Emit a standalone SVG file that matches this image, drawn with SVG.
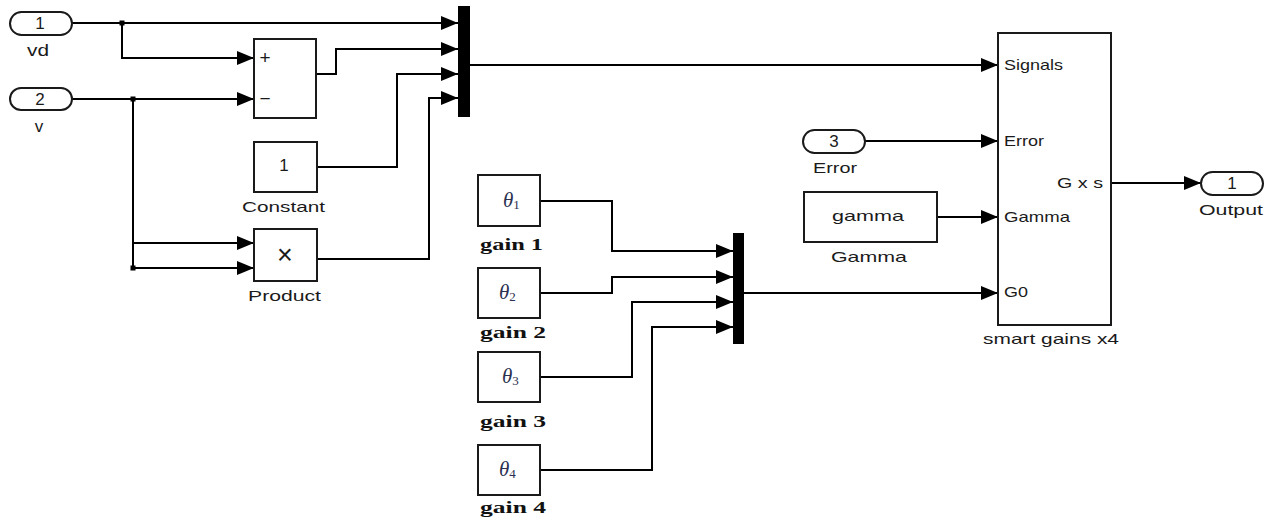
<svg xmlns="http://www.w3.org/2000/svg" width="1275" height="523" viewBox="0 0 1275 523">
<style>
.blk{fill:#fff;stroke:#1a1a1a;stroke-width:2}
.bar{fill:#000;stroke:none}
.w{fill:none;stroke:#000;stroke-width:2}
.t{font-family:"Liberation Sans",Arial,sans-serif;font-size:15px;fill:#1a1a1a}
.d{font-size:17px}
.c{text-anchor:middle}
.g{font-family:"Liberation Serif","Times New Roman",serif;font-size:17px;font-weight:bold;fill:#111}
.th{font-family:"Liberation Serif","Times New Roman",serif;font-style:italic;font-size:21px;fill:#2a3050}
.sub{font-style:normal;font-size:13px}
</style>
<defs>
<marker id="ar" markerUnits="userSpaceOnUse" markerWidth="17" markerHeight="14" refX="17" refY="7" orient="auto">
<path d="M0,0 L17,7 L0,14 z" fill="#000"/>
</marker>
</defs>
<rect width="1275" height="523" fill="#fff"/>

<g id="connectors">
<path class="w" d="M72,23 H458" marker-end="url(#ar)"/>
<path class="w" d="M122,23 V58 H254" marker-end="url(#ar)"/>
<path class="w" d="M72,99 H254" marker-end="url(#ar)"/>
<path class="w" d="M133,99 V268 H254" marker-end="url(#ar)"/>
<path class="w" d="M133,243 H254" marker-end="url(#ar)"/>
<path class="w" d="M316,74 H336 V49 H458" marker-end="url(#ar)"/>
<path class="w" d="M317,167 H397 V74 H458" marker-end="url(#ar)"/>
<path class="w" d="M317,259 H429 V98 H458" marker-end="url(#ar)"/>
<path class="w" d="M470,65 H998" marker-end="url(#ar)"/>
<path class="w" d="M865,141 H998" marker-end="url(#ar)"/>
<path class="w" d="M937,217 H998" marker-end="url(#ar)"/>
<path class="w" d="M744,293 H998" marker-end="url(#ar)"/>
<path class="w" d="M1111,183 H1201" marker-end="url(#ar)"/>
<path class="w" d="M540,201 H612 V251 H733" marker-end="url(#ar)"/>
<path class="w" d="M540,293 H612 V277 H733" marker-end="url(#ar)"/>
<path class="w" d="M540,377 H632 V302 H733" marker-end="url(#ar)"/>
<path class="w" d="M540,470 H652 V327 H733" marker-end="url(#ar)"/>
<rect x="119.5" y="20.5" width="5" height="5" fill="#000"/>
<rect x="130.5" y="96.5" width="5" height="5" fill="#000"/>
<rect x="130.5" y="265.5" width="5" height="5" fill="#000"/>
</g>

<g id="in1">
<rect class="blk" x="10" y="12" width="62" height="23" rx="11.5"/>
<text class="t d c" x="40" y="29">1</text>
<text class="t d" x="27" y="56" textLength="22" lengthAdjust="spacingAndGlyphs">vd</text>
</g>
<g id="in2">
<rect class="blk" x="10" y="88" width="62" height="22" rx="11"/>
<text class="t d c" x="40" y="105">2</text>
<text class="t d c" x="39" y="132">v</text>
</g>
<g id="sum">
<rect class="blk" x="254" y="39" width="62" height="79"/>
<text class="t c" x="265" y="64" style="font-size:19px">+</text>
<text class="t c" x="265" y="105" style="font-size:19px">−</text>
</g>
<g id="constant">
<rect class="blk" x="254" y="142" width="63" height="50"/>
<text class="t d c" x="284" y="171">1</text>
<text class="t" x="242" y="212" textLength="83" lengthAdjust="spacingAndGlyphs">Constant</text>
</g>
<g id="product">
<rect class="blk" x="254" y="229" width="63" height="52"/>
<text class="t c" x="285" y="264" style="font-size:27px;font-weight:300">×</text>
<text class="t" x="248" y="301" textLength="73" lengthAdjust="spacingAndGlyphs">Product</text>
</g>
<g id="mux1">
<rect class="bar" x="458" y="6" width="12" height="111"/>
</g>
<g id="gain1">
<rect class="blk" x="478" y="175" width="62" height="51"/>
<text class="th" x="503" y="207">θ<tspan class="sub" dy="2">1</tspan></text>
<text class="g" x="480" y="250" textLength="63" lengthAdjust="spacingAndGlyphs">gain 1</text>
</g>
<g id="gain2">
<rect class="blk" x="478" y="268" width="62" height="50"/>
<text class="th" x="499" y="299">θ<tspan class="sub" dy="2">2</tspan></text>
<text class="g" x="480" y="338" textLength="66" lengthAdjust="spacingAndGlyphs">gain 2</text>
</g>
<g id="gain3">
<rect class="blk" x="478" y="352" width="62" height="50"/>
<text class="th" x="502" y="383">θ<tspan class="sub" dy="2">3</tspan></text>
<text class="g" x="480" y="427" textLength="66" lengthAdjust="spacingAndGlyphs">gain 3</text>
</g>
<g id="gain4">
<rect class="blk" x="478" y="445" width="62" height="50"/>
<text class="th" x="499" y="476">θ<tspan class="sub" dy="2">4</tspan></text>
<text class="g" x="480" y="513" textLength="66" lengthAdjust="spacingAndGlyphs">gain 4</text>
</g>
<g id="mux2">
<rect class="bar" x="733" y="233" width="11" height="111"/>
</g>
<g id="in3">
<rect class="blk" x="803" y="130" width="62" height="23" rx="11.5"/>
<text class="t d c" x="834" y="147">3</text>
<text class="t" x="813" y="173" textLength="44" lengthAdjust="spacingAndGlyphs">Error</text>
</g>
<g id="gamma">
<rect class="blk" x="804" y="192" width="133" height="50"/>
<text class="t" x="832" y="221" textLength="72" lengthAdjust="spacingAndGlyphs">gamma</text>
<text class="t" x="831" y="262" textLength="76" lengthAdjust="spacingAndGlyphs">Gamma</text>
</g>
<g id="smartgains">
<rect class="blk" x="998" y="33" width="113" height="292"/>
<text class="t" x="1004" y="70" textLength="59" lengthAdjust="spacingAndGlyphs">Signals</text>
<text class="t" x="1004" y="146" textLength="40" lengthAdjust="spacingAndGlyphs">Error</text>
<text class="t" x="1004" y="222" textLength="66" lengthAdjust="spacingAndGlyphs">Gamma</text>
<text class="t" x="1004" y="297" textLength="24" lengthAdjust="spacingAndGlyphs">G0</text>
<text class="t" x="1057" y="188" textLength="46" lengthAdjust="spacingAndGlyphs">G x s</text>
<text class="t" x="983" y="344" textLength="136" lengthAdjust="spacingAndGlyphs">smart gains x4</text>
</g>
<g id="out1">
<rect class="blk" x="1201" y="172" width="62" height="23" rx="11.5"/>
<text class="t d c" x="1232" y="189">1</text>
<text class="t" x="1199" y="215" textLength="64" lengthAdjust="spacingAndGlyphs">Output</text>
</g>
</svg>
